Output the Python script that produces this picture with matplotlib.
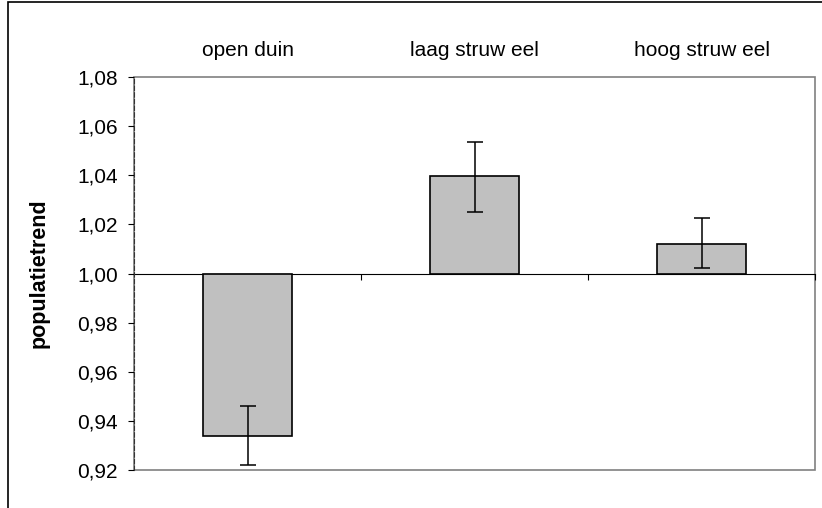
import matplotlib.pyplot as plt
from matplotlib.patches import Rectangle
from matplotlib.ticker import FuncFormatter

plt.rcParams['font.family'] = ['Liberation Sans', 'DejaVu Sans']

# data
categories = ['open duin', 'laag struw eel', 'hoog struw eel']
trend = [0.934, 1.0395, 1.012]
err_low = [0.012, 0.0145, 0.0098]
err_high = [0.012, 0.014, 0.0105]
baseline = 1.0

fig = plt.figure(figsize=(8.22, 5.08), dpi=100)
ax = fig.add_axes([134 / 822, 1 - 470 / 508, 681 / 822, 393 / 508])

x = list(range(len(categories)))
heights = [v - baseline for v in trend]
ax.bar(x, heights, bottom=baseline, width=0.39, color='#c0c0c0',
       edgecolor='black', linewidth=1.2, zorder=3)
ax.errorbar(x, trend, yerr=[err_low, err_high], fmt='none', ecolor='black',
            elinewidth=1.1, capsize=5.5, capthick=1.1, zorder=4)

ax.set_xlim(-0.5, 2.5)
ax.set_ylim(0.92, 1.08)
ax.set_yticks([0.92, 0.94, 0.96, 0.98, 1.00, 1.02, 1.04, 1.06, 1.08])
ax.yaxis.set_major_formatter(FuncFormatter(lambda v, p: f'{v:.2f}'.replace('.', ',')))
ax.tick_params(axis='y', direction='out', length=4.5, width=0.8, labelsize=15, pad=7)

# horizontal axis line at 1,00 with ticks between the categories
ax.spines['bottom'].set_position(('data', baseline))
ax.spines['bottom'].set_color('black')
ax.spines['bottom'].set_linewidth(0.8)
ax.spines['bottom'].set_zorder(2)
ax.set_xticks([0.5, 1.5, 2.5])
ax.tick_params(axis='x', direction='out', length=4, width=0.8, labelbottom=False)

ax.spines['left'].set_linestyle((0, (4, 2)))
ax.spines['left'].set_color('#333333')
ax.spines['left'].set_linewidth(0.8)
ax.spines['left'].set_zorder(5)
ax.spines['top'].set_visible(False)
ax.spines['right'].set_visible(False)
ax.add_patch(Rectangle((0, 0), 1, 1, transform=ax.transAxes, fill=False,
                       edgecolor='#808080', linewidth=1.2, clip_on=False, zorder=1))

# category labels above the plot
top = ax.secondary_xaxis('top')
top.set_xticks(x)
top.set_xticklabels(categories)
top.tick_params(length=0, labelsize=15, pad=12)
top.spines['top'].set_visible(False)

ax.set_ylabel('populatietrend', fontsize=15.5, fontweight='bold')
ax.yaxis.set_label_coords((50 - 134) / 681, 0.5)

# outer chart border
fig.add_artist(Rectangle((8 / 822, -0.1), 1.2, 1 - 2 / 508 + 0.1, transform=fig.transFigure,
                         fill=False, edgecolor='black', linewidth=1.2))

fig.savefig('out.png', dpi=100)
